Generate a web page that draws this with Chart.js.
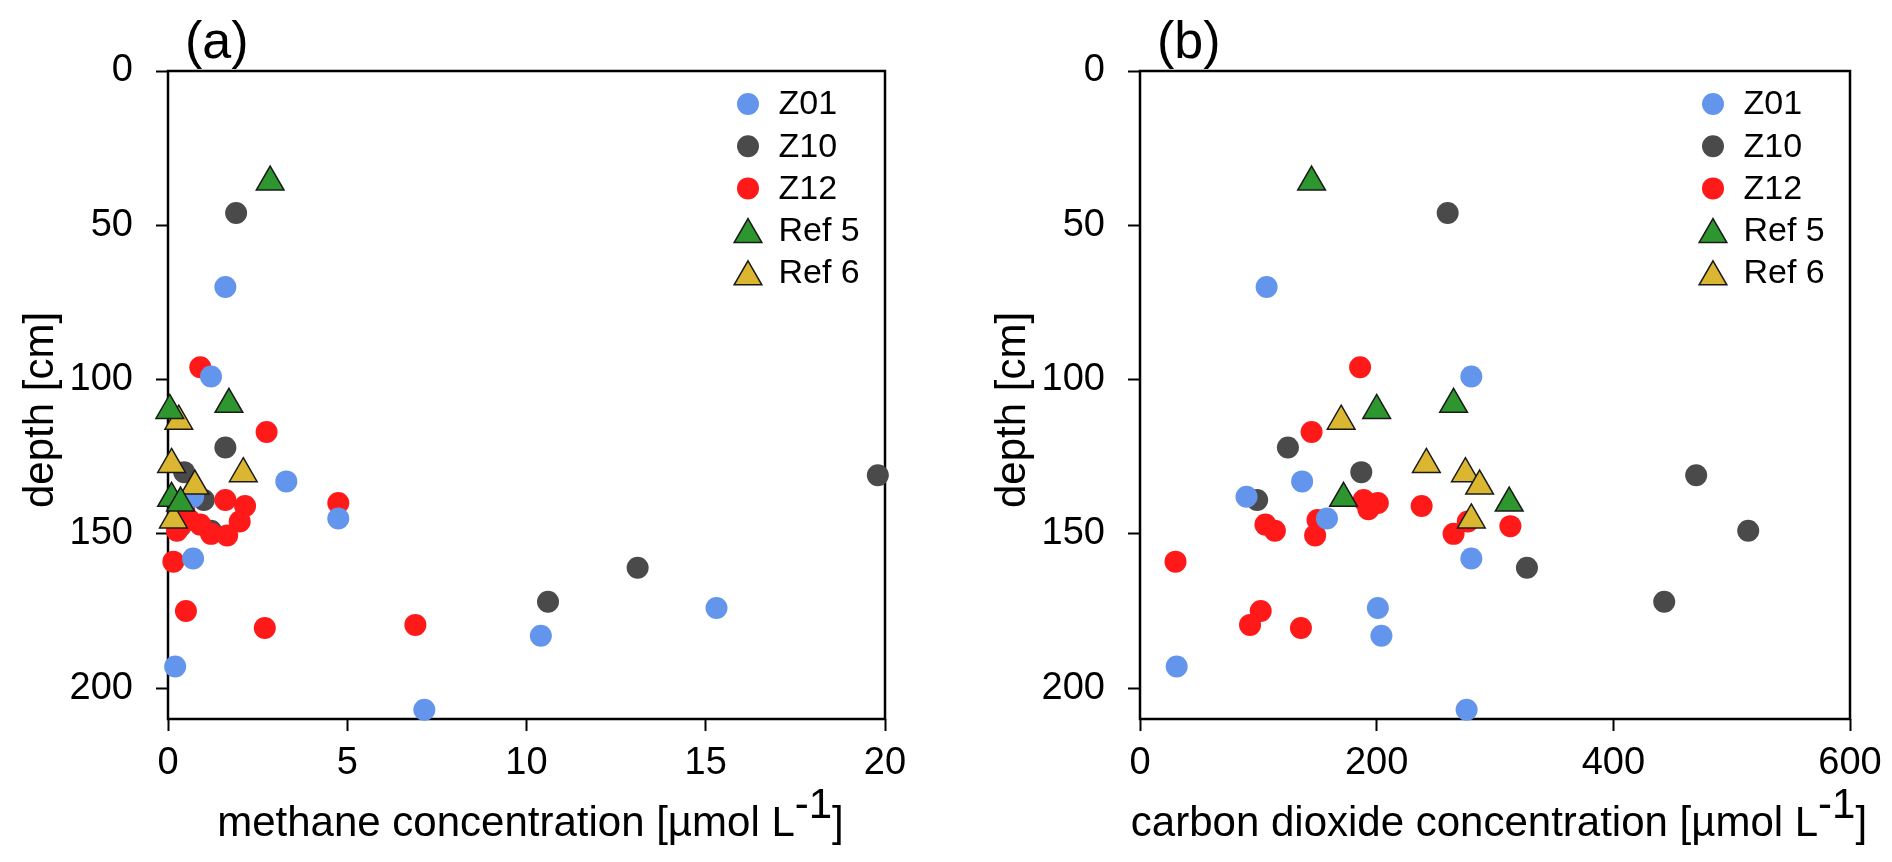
<!DOCTYPE html>
<html>
<head>
<meta charset="utf-8">
<script src="https://cdn.jsdelivr.net/npm/chart.js@4/dist/chart.umd.min.js"></script>
<style>
  html, body { margin: 0; padding: 0; background: #fff; }
  .panel { position: absolute; top: 0; width: 946px; height: 862px; }
</style>
</head>
<body>
<div class="panel" style="left:0"><canvas id="methaneChart" width="946" height="862"></canvas></div>
<div class="panel" style="left:946px"><canvas id="co2Chart" width="946" height="862"></canvas></div>
<script>
// sample depths [cm] and concentrations [umol/L] per core
const depthZ01 = [70, 99, 133, 138, 145, 158, 174, 183, 193, 207];
const ch4Z01 = [1.6, 1.2, 3.3, 0.7, 4.75, 0.7, 15.3, 10.4, 0.2, 7.15];
const co2Z01 = [107, 280, 137, 90, 158, 280, 201, 204, 31, 276];

const depthZ10 = [46, 122, 130, 131, 139, 149, 161, 172];
const ch4Z10 = [1.9, 1.6, 0.45, 19.8, 1.0, 1.2, 13.1, 10.6];
const co2Z10 = [260, 125, 187, 470, 99, 514, 327, 443];

const depthZ12 = [96, 117, 139, 140, 141, 142, 145.5, 146, 147, 147.5, 149, 150, 150.5, 159, 175, 179.5, 180.5];
const ch4Z12 = [0.9, 2.75, 1.6, 4.75, 2.15, 0.45, 0.6, 2.0, 0.9, 0.35, 0.25, 1.2, 1.65, 0.15, 0.5, 6.9, 2.7];
const co2Z12 = [186, 145, 189, 201, 238, 193, 150, 277, 106, 313, 114, 265, 148, 30, 102, 93, 136];

const depthRef5 = [36, 108, 110, 138.5, 140];
const ch4Ref5 = [2.85, 1.7, 0.05, 0.1, 0.35];
const co2Ref5 = [145, 265, 200, 172, 312];

const depthRef6 = [113.5, 127.5, 130.5, 134.5, 145.5];
const ch4Ref6 = [0.3, 0.1, 2.1, 0.75, 0.15];
const co2Ref6 = [170, 242, 275, 287, 280];

const depthTicks = [0, 50, 100, 150, 200];
const ch4Ticks = [0, 5, 10, 15, 20];
const co2Ticks = [0, 200, 400, 600];

const FONT = '"Liberation Sans", Arial, sans-serif';
Chart.defaults.font.family = FONT;
Chart.defaults.color = "#000";

function pairs(xs, ys) {
    return xs.map((x, i) => ({ x: x, y: ys[i] }));
}

function makeDatasets(which) {
    const pick = (ch4, co2) => which === "ch4" ? ch4 : co2;
    return [
        { label: "Z01", data: pairs(pick(ch4Z01, co2Z01), depthZ01), backgroundColor: "#6495ed", pointRadius: 11, borderWidth: 0, order: 2 },
        { label: "Z10", data: pairs(pick(ch4Z10, co2Z10), depthZ10), backgroundColor: "#4a4a4a", pointRadius: 11, borderWidth: 0, order: 4 },
        { label: "Z12", data: pairs(pick(ch4Z12, co2Z12), depthZ12), backgroundColor: "#ff1919", pointRadius: 11, borderWidth: 0, order: 3 },
        { label: "Ref 5", data: pairs(pick(ch4Ref5, co2Ref5), depthRef5), backgroundColor: "#2e962e", borderColor: "#1a1a1a",
          pointStyle: "triangle", pointRadius: 16, borderWidth: 1.5, order: 0 },
        { label: "Ref 6", data: pairs(pick(ch4Ref6, co2Ref6), depthRef6), backgroundColor: "#dbb630", borderColor: "#1a1a1a",
          pointStyle: "triangle", pointRadius: 16, borderWidth: 1.5, order: 1 }
    ].map(d => Object.assign(d, { clip: false, pointHoverRadius: d.pointRadius, showLine: false }));
}

// frame, panel letter, axis titles (with superscript) and legend
const decorPlugin = {
    id: "decor",
    beforeDatasetsDraw(chart) {
        const { ctx, chartArea: a } = chart;
        ctx.save();
        ctx.strokeStyle = "#000";
        ctx.lineWidth = 2.5;
        ctx.strokeRect(a.left, a.top, a.right - a.left, a.bottom - a.top);
        ctx.restore();
    },
    afterDraw(chart, args, opts) {
        const { ctx, chartArea: a } = chart;
        ctx.save();
        ctx.fillStyle = "#000";

        // panel letter
        ctx.font = "52px " + FONT;
        ctx.textAlign = "left";
        ctx.textBaseline = "alphabetic";
        ctx.fillText(opts.panel, a.left + 17, 58);

        // x title with superscript
        ctx.font = "42px " + FONT;
        const parts = opts.xTitle;
        const widths = parts.map(p => ctx.measureText(p).width);
        let x = (a.left + a.right) / 2 + 4 - (widths[0] + widths[1] + widths[2]) / 2;
        ctx.fillText(parts[0], x, 836);
        x += widths[0];
        ctx.fillText(parts[1], x, 818);
        x += widths[1];
        ctx.fillText(parts[2], x, 836);

        // y title
        ctx.save();
        ctx.translate(a.left - 115, 410);
        ctx.rotate(-Math.PI / 2);
        ctx.textAlign = "center";
        ctx.fillText("depth [cm]", 0, 0);
        ctx.restore();

        // legend
        ctx.font = "34px " + FONT;
        ctx.textBaseline = "middle";
        chart.data.datasets.forEach((ds, i) => {
            const mx = a.right - 137;
            const my = a.top + 33 + i * 42.2;
            const r = ds.pointRadius;
            ctx.fillStyle = ds.backgroundColor;
            ctx.beginPath();
            if (ds.pointStyle === "triangle") {
                const cy = my + r / 4;
                const hw = r * Math.sin(Math.PI / 3);
                ctx.moveTo(mx, cy - r);
                ctx.lineTo(mx + hw, cy + r / 2);
                ctx.lineTo(mx - hw, cy + r / 2);
                ctx.closePath();
                ctx.fill();
                ctx.lineWidth = ds.borderWidth;
                ctx.strokeStyle = ds.borderColor;
                ctx.stroke();
            } else {
                ctx.arc(mx, my, r, 0, Math.PI * 2);
                ctx.fill();
            }
            ctx.fillStyle = "#000";
            ctx.fillText(ds.label, mx + 30.5, my + 1);
        });
        ctx.restore();
    }
};

function makeChart(canvasId, which, xMax, xStep, xTickList, yWidth, padRight, panel, xTitle) {
    const ctx = document.getElementById(canvasId).getContext("2d");
    return new Chart(ctx, {
        type: "scatter",
        data: { datasets: makeDatasets(which) },
        plugins: [decorPlugin],
        options: {
            responsive: false,
            animation: false,
            events: [],
            layout: { padding: { top: 71, right: padRight, bottom: 0, left: 0 } },
            plugins: {
                legend: { display: false },
                tooltip: { enabled: false },
                decor: { panel: panel, xTitle: xTitle }
            },
            scales: {
                x: {
                    type: "linear",
                    min: 0,
                    max: xMax,
                    afterBuildTicks: s => { s.ticks = xTickList.map(v => ({ value: v })); },
                    afterFit: s => { s.height = 143; },
                    border: { display: false },
                    grid: { drawOnChartArea: false, drawTicks: true, tickLength: 12, tickWidth: 2, tickColor: "#000", color: "#000" },
                    ticks: { stepSize: xStep, font: { size: 38 }, padding: 10, maxRotation: 0, color: "#000" }
                },
                y: {
                    type: "linear",
                    reverse: true,
                    min: 0,
                    max: 210,
                    afterBuildTicks: s => { s.ticks = depthTicks.map(v => ({ value: v })); },
                    afterFit: s => { s.width = yWidth; },
                    border: { display: false },
                    grid: { drawOnChartArea: false, drawTicks: true, tickLength: 12, tickWidth: 2, tickColor: "#000", color: "#000" },
                    ticks: { stepSize: 50, font: { size: 38 }, padding: 23, color: "#000" }
                }
            }
        }
    });
}

makeChart("methaneChart", "ch4", 20, 5, ch4Ticks, 168, 61, "(a)",
    ["methane concentration [\u00b5mol L", "-1", "]"]);
makeChart("co2Chart", "co2", 600, 200, co2Ticks, 194, 42, "(b)",
    ["carbon dioxide concentration [\u00b5mol L", "-1", "]"]);
</script>
</body>
</html>
